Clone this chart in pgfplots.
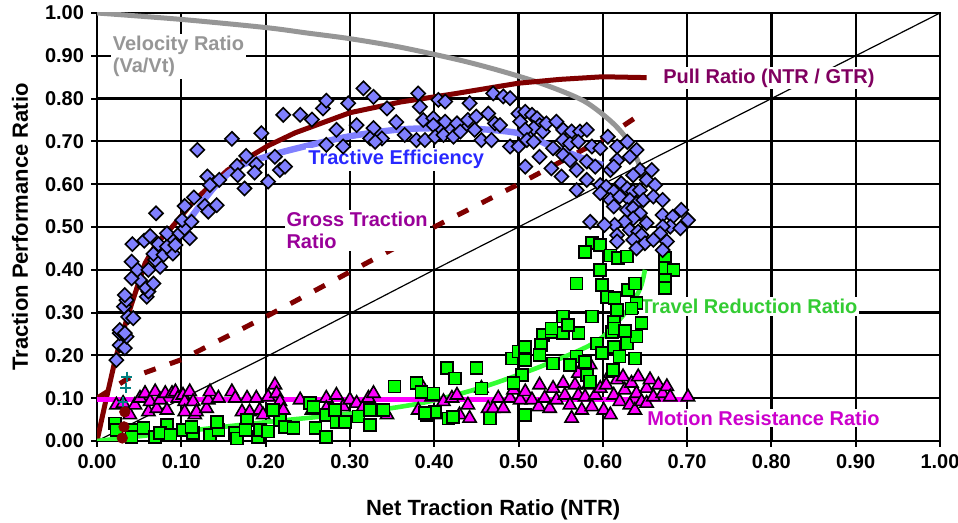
\documentclass[border=0pt]{standalone}
\usepackage{pgfplots}
\pgfplotsset{compat=1.18}
\usepackage{fontspec}
\setmainfont{Liberation Sans}

\definecolor{diam}{RGB}{128,128,255}
\definecolor{pullred}{RGB}{128,0,0}
\definecolor{velgray}{RGB}{150,150,150}
\definecolor{tegreen}{RGB}{0,255,0}
\definecolor{trline}{RGB}{51,255,51}
\definecolor{mrmag}{RGB}{255,0,255}
\definecolor{pulltxt}{RGB}{128,0,96}
\definecolor{gttxt}{RGB}{153,0,153}
\definecolor{tetxt}{RGB}{40,40,255}
\definecolor{trtxt}{RGB}{51,204,51}
\definecolor{mrtxt}{RGB}{204,0,204}
\definecolor{teal2}{RGB}{0,128,128}

\begin{document}
\begin{tikzpicture}
\path[use as bounding box] (-48.5pt,-41pt) rectangle (430.5pt,220.5pt);
\begin{axis}[
    at={(0,0)}, anchor=south west,
    width=421.5pt, height=214pt, scale only axis,
    xmin=0, xmax=1, ymin=0, ymax=1,
    xtick={0,0.1,...,1.01}, ytick={0,0.1,...,1.01},
    grid=major,
    major grid style={black, line width=1.1pt},
    axis line style={black, line width=1.2pt},
    tick style={black, line width=1pt},
    tick pos=left, tick align=outside, major tick length=3pt,
    /pgf/number format/assume math mode=true,
    xticklabel style={font=\bfseries\fontsize{10}{12}\selectfont, /pgf/number format/.cd, fixed, fixed zerofill, precision=2},
    yticklabel style={font=\bfseries\fontsize{10}{12}\selectfont, /pgf/number format/.cd, fixed, fixed zerofill, precision=2},
    xlabel={Net Traction Ratio (NTR)},
    ylabel={Traction Performance Ratio},
    xlabel style={font=\bfseries\fontsize{11}{13}\selectfont, at={(axis description cs:0.47,-0.161)}, anchor=center},
    ylabel style={font=\bfseries\fontsize{11}{13}\selectfont, at={(axis description cs:-0.0913,0.5)}, anchor=center},
]
% y = x reference line
\addplot[black, line width=0.6pt] coordinates {(0,0) (0.2,0.196) (0.4,0.4) (0.6,0.6) (0.8,0.8) (1,1)};
% Velocity ratio
\addplot[velgray, line width=2.5pt, smooth] coordinates {
(0,1.0) (0.1,0.985) (0.2,0.966) (0.25,0.953) (0.3,0.94) (0.36,0.92) (0.43,0.89) (0.48,0.864)
(0.529,0.834) (0.577,0.795) (0.609,0.748) (0.628,0.707) (0.64,0.662) (0.648,0.615) (0.652,0.60)};
% Pull ratio
\addplot[pullred, line width=2.5pt] coordinates {
(0,0) (0.01,0.09) (0.021,0.185) (0.03,0.25) (0.041,0.32) (0.057,0.415) (0.07,0.46) (0.089,0.50)
(0.116,0.563) (0.155,0.633) (0.203,0.69) (0.235,0.72) (0.3,0.767) (0.36,0.792) (0.42,0.81)
(0.5,0.836) (0.55,0.845) (0.6,0.851) (0.652,0.849)};
% Gross traction ratio
\addplot[pullred, line width=2.5pt, dash pattern=on 6pt off 7.5pt] coordinates {
(0,0.1) (0.036,0.145) (0.1,0.19) (0.2,0.29) (0.3,0.395) (0.4,0.50) (0.5,0.60) (0.6,0.705) (0.65,0.77)};
% Tractive efficiency
\addplot[diam, line width=3.2pt, smooth] coordinates {
(0.07,0.41) (0.09,0.47) (0.112,0.524) (0.14,0.595) (0.167,0.64) (0.207,0.668) (0.25,0.69)
(0.3,0.712) (0.36,0.728) (0.42,0.731) (0.46,0.728) (0.498,0.72) (0.52,0.706) (0.537,0.69)
(0.56,0.673) (0.581,0.657) (0.6,0.645)};
% Travel reduction ratio
\addplot[trline, line width=2.3pt, smooth] coordinates {
(0,0) (0.1,0.022) (0.2,0.044) (0.3,0.064) (0.36,0.08) (0.4,0.095) (0.458,0.126) (0.525,0.173)
(0.581,0.22) (0.605,0.252) (0.632,0.313) (0.645,0.36) (0.65,0.40)};
% Motion resistance ratio
\addplot[mrmag, line width=2.5pt] coordinates {(0,0.098) (0.7,0.098)};

% Motion resistance data
\addplot[only marks, mark=triangle*, mark size=3.8pt, mark options={fill=mrmag, draw=black, line width=0.8pt}] table {
0.023 0.084
0.031 0.088
0.039 0.061
0.045 0.084
0.051 0.100
0.057 0.111
0.061 0.068
0.063 0.092
0.069 0.115
0.071 0.076
0.075 0.096
0.081 0.111
0.083 0.072
0.089 0.111
0.093 0.115
0.096 0.100
0.102 0.107
0.104 0.092
0.104 0.068
0.110 0.115
0.114 0.092
0.116 0.061
0.118 0.068
0.130 0.076
0.132 0.096
0.134 0.115
0.144 0.100
0.160 0.115
0.164 0.100
0.172 0.068
0.178 0.100
0.181 0.068
0.189 0.100
0.193 0.072
0.197 0.061
0.203 0.103
0.211 0.131
0.213 0.111
0.217 0.092
0.221 0.072
0.241 0.096
0.255 0.072
0.272 0.100
0.272 0.076
0.284 0.107
0.292 0.080
0.300 0.096
0.308 0.088
0.316 0.080
0.322 0.100
0.328 0.111
0.328 0.076
0.344 0.061
0.381 0.072
0.387 0.123
0.397 0.103
0.405 0.061
0.411 0.092
0.421 0.100
0.427 0.107
0.430 0.061
0.440 0.084
0.442 0.053
0.456 0.123
0.464 0.076
0.470 0.076
0.476 0.100
0.482 0.076
0.490 0.100
0.494 0.119
0.502 0.096
0.508 0.115
0.516 0.096
0.524 0.080
0.525 0.131
0.531 0.100
0.537 0.076
0.541 0.123
0.545 0.096
0.553 0.135
0.555 0.107
0.561 0.084
0.563 0.053
0.567 0.131
0.571 0.158
0.571 0.107
0.575 0.072
0.579 0.103
0.583 0.131
0.585 0.178
0.587 0.080
0.591 0.107
0.597 0.123
0.601 0.072
0.604 0.131
0.609 0.061
0.609 0.158
0.613 0.107
0.617 0.143
0.620 0.092
0.624 0.150
0.626 0.119
0.632 0.084
0.634 0.135
0.638 0.072
0.640 0.111
0.642 0.150
0.646 0.092
0.652 0.123
0.652 0.088
0.656 0.143
0.660 0.103
0.666 0.131
0.671 0.111
0.676 0.127
0.680 0.103
0.701 0.103
};

% Travel reduction data
\addplot[only marks, mark=square*, mark size=3pt, mark options={fill=tegreen, draw=black, line width=0.8pt}] table {
0.021 0.041
0.023 0.026
0.041 0.026
0.041 0.010
0.055 0.030
0.069 0.010
0.083 0.037
0.075 0.018
0.087 0.014
0.102 0.026
0.114 0.018
0.112 0.033
0.134 0.014
0.144 0.026
0.142 0.045
0.164 0.018
0.166 0.006
0.178 0.049
0.176 0.026
0.191 0.010
0.193 0.026
0.203 0.022
0.217 0.049
0.223 0.033
0.233 0.030
0.209 0.072
0.253 0.089
0.257 0.080
0.259 0.030
0.272 0.010
0.272 0.061
0.282 0.072
0.284 0.045
0.294 0.045
0.310 0.057
0.324 0.037
0.324 0.072
0.340 0.072
0.353 0.127
0.379 0.135
0.385 0.115
0.399 0.111
0.391 0.061
0.401 0.068
0.417 0.053
0.415 0.170
0.425 0.146
0.450 0.170
0.456 0.123
0.466 0.053
0.508 0.061
0.422 0.056
0.389 0.065
0.492 0.193
0.500 0.209
0.508 0.220
0.508 0.189
0.504 0.154
0.494 0.135
0.529 0.248
0.527 0.224
0.525 0.201
0.541 0.181
0.539 0.255
0.553 0.252
0.571 0.252
0.569 0.197
0.579 0.185
0.561 0.178
0.581 0.154
0.593 0.228
0.599 0.205
0.613 0.220
0.620 0.197
0.629 0.228
0.638 0.193
0.640 0.244
0.611 0.255
0.585 0.139
0.612 0.166
0.587 0.462
0.597 0.458
0.579 0.442
0.609 0.433
0.618 0.427
0.629 0.431
0.597 0.400
0.569 0.368
0.599 0.364
0.605 0.337
0.614 0.334
0.617 0.306
0.630 0.353
0.638 0.368
0.640 0.322
0.634 0.310
0.587 0.291
0.553 0.291
0.559 0.271
0.539 0.263
0.613 0.278
0.614 0.263
0.626 0.257
0.646 0.275
0.674 0.427
0.674 0.404
0.684 0.400
0.674 0.376
0.674 0.357
};

% Tractive efficiency data
\addplot[only marks, mark=square*, mark size=2.5pt, mark options={rotate=45, fill=diam, draw=black, line width=0.8pt}] table {
0.023 0.189
0.027 0.224
0.033 0.217
0.027 0.252
0.035 0.244
0.027 0.259
0.033 0.252
0.037 0.290
0.043 0.287
0.032 0.314
0.035 0.329
0.033 0.341
0.059 0.337
0.061 0.349
0.057 0.360
0.067 0.368
0.051 0.376
0.041 0.380
0.048 0.400
0.061 0.400
0.075 0.407
0.041 0.419
0.069 0.423
0.067 0.437
0.079 0.435
0.090 0.438
0.042 0.460
0.073 0.460
0.083 0.454
0.093 0.458
0.056 0.468
0.063 0.479
0.083 0.485
0.098 0.485
0.110 0.474
0.104 0.497
0.101 0.516
0.112 0.512
0.070 0.532
0.104 0.549
0.128 0.549
0.132 0.536
0.142 0.551
0.115 0.569
0.131 0.618
0.134 0.598
0.145 0.610
0.175 0.590
0.119 0.680
0.160 0.706
0.195 0.719
0.177 0.666
0.211 0.664
0.217 0.633
0.189 0.646
0.187 0.627
0.166 0.643
0.167 0.621
0.223 0.641
0.203 0.606
0.221 0.762
0.241 0.762
0.255 0.751
0.268 0.777
0.272 0.795
0.298 0.789
0.316 0.824
0.328 0.804
0.344 0.777
0.284 0.727
0.308 0.738
0.328 0.731
0.324 0.707
0.338 0.707
0.330 0.699
0.272 0.692
0.292 0.688
0.355 0.745
0.365 0.715
0.381 0.812
0.383 0.781
0.405 0.797
0.413 0.793
0.442 0.789
0.470 0.812
0.482 0.805
0.490 0.801
0.387 0.750
0.399 0.754
0.399 0.738
0.413 0.746
0.427 0.742
0.440 0.750
0.450 0.758
0.464 0.765
0.472 0.742
0.478 0.738
0.379 0.703
0.389 0.703
0.401 0.711
0.411 0.715
0.423 0.711
0.431 0.723
0.448 0.727
0.456 0.703
0.468 0.703
0.490 0.688
0.500 0.688
0.500 0.765
0.508 0.769
0.502 0.746
0.516 0.762
0.522 0.754
0.525 0.738
0.518 0.731
0.529 0.723
0.533 0.742
0.545 0.746
0.553 0.727
0.563 0.723
0.573 0.723
0.581 0.727
0.508 0.727
0.510 0.703
0.518 0.699
0.541 0.684
0.553 0.703
0.561 0.695
0.571 0.699
0.587 0.688
0.597 0.684
0.606 0.711
0.508 0.641
0.525 0.664
0.539 0.637
0.553 0.668
0.551 0.618
0.561 0.656
0.569 0.633
0.581 0.653
0.591 0.641
0.569 0.586
0.581 0.610
0.597 0.598
0.609 0.633
0.617 0.688
0.629 0.699
0.640 0.680
0.632 0.664
0.617 0.656
0.613 0.641
0.644 0.633
0.658 0.633
0.636 0.621
0.622 0.602
0.652 0.610
0.662 0.598
0.604 0.594
0.613 0.583
0.629 0.590
0.636 0.583
0.644 0.586
0.597 0.579
0.609 0.563
0.620 0.571
0.632 0.563
0.640 0.555
0.648 0.563
0.660 0.571
0.671 0.563
0.613 0.548
0.629 0.540
0.636 0.544
0.644 0.532
0.652 0.509
0.636 0.520
0.626 0.512
0.614 0.505
0.602 0.505
0.585 0.512
0.617 0.481
0.632 0.493
0.642 0.489
0.646 0.481
0.617 0.466
0.636 0.470
0.650 0.462
0.640 0.450
0.671 0.528
0.683 0.524
0.693 0.540
0.701 0.516
0.680 0.501
0.692 0.497
0.671 0.501
0.668 0.485
0.676 0.466
0.660 0.470
0.671 0.446
};

% extra small markers near origin
\addplot[only marks, mark=+, mark size=2.6pt, teal2, line width=1pt] coordinates {(0.035,0.15) (0.034,0.124) (0.031,0.09)};
\addplot[only marks, mark=*, mark size=2.6pt, pullred] coordinates {(0.033,0.068) (0.032,0.033) (0.030,0.007)};

% series labels
\node[anchor=west, fill=white, inner sep=1pt, align=left, text=velgray, font=\bfseries\fontsize{10}{11}\selectfont] at (axis cs:0.016,0.899) {Velocity Ratio\\(Va/Vt)};
\node[anchor=west, fill=white, inner sep=1pt, text=pulltxt, font=\bfseries\fontsize{10}{12}\selectfont] at (axis cs:0.669,0.848) {Pull Ratio (NTR / GTR)};
\node[anchor=west, fill=white, inner sep=1pt, text=tetxt, font=\bfseries\fontsize{10}{12}\selectfont] at (axis cs:0.248,0.657) {Tractive Efficiency};
\node[anchor=west, fill=white, inner sep=1pt, align=left, text=gttxt, font=\bfseries\fontsize{10}{11}\selectfont] at (axis cs:0.222,0.492) {Gross Traction\\Ratio};
\node[anchor=west, fill=white, inner sep=1pt, text=trtxt, font=\bfseries\fontsize{10}{12}\selectfont] at (axis cs:0.642,0.315) {Travel Reduction Ratio};
\node[anchor=west, fill=white, inner sep=1pt, text=mrtxt, font=\bfseries\fontsize{10}{12}\selectfont] at (axis cs:0.650,0.054) {Motion Resistance Ratio};
\end{axis}
\end{tikzpicture}
\end{document}
